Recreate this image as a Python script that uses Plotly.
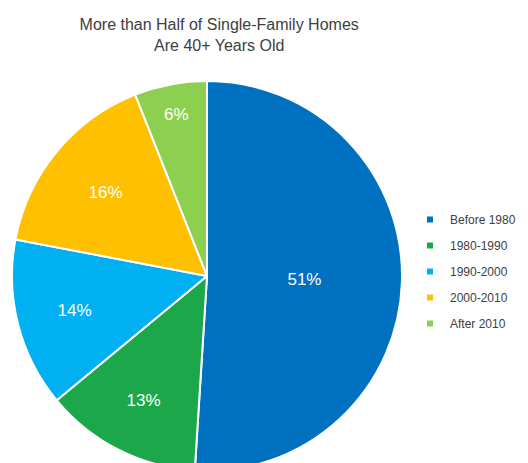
import plotly.graph_objects as go

labels = ["Before 1980", "1980-1990", "1990-2000", "2000-2010", "After 2010"]
values = [51, 13, 14, 16, 6]
colors = ["#0070C0", "#1CA84A", "#00B0F0", "#FFC000", "#8DCF4F"]

W, H = 528, 463

fig = go.Figure()
fig.add_trace(go.Pie(
    labels=labels, values=values, sort=False, direction="clockwise", rotation=0,
    marker=dict(colors=colors, line=dict(color="white", width=2)),
    textinfo="percent", texttemplate="%{percent:.0%}", textposition="inside",
    insidetextorientation="horizontal",
    textfont=dict(color="white", size=17, family="Liberation Sans, Arial"),
    showlegend=False,
    domain=dict(x=[0 / W, 398 / W], y=[0, (H - 73) / H]),
))
for lab, col in zip(labels, colors):
    fig.add_trace(go.Scatter(
        x=[None], y=[None], mode="markers", name=lab, legendgroup=lab,
        marker=dict(symbol="square", size=6, color=col),
    ))

fig.update_layout(
    width=W, height=H,
    margin=dict(l=0, r=0, t=0, b=0),
    paper_bgcolor="white", plot_bgcolor="white",
    xaxis=dict(visible=False), yaxis=dict(visible=False),
    title=dict(text="More than Half of Single-Family Homes<br>Are 40+ Years Old",
               x=0.40, xanchor="center", y=1 - 22 / H, yanchor="top",
               font=dict(family="Liberation Sans, Arial", size=16, color="#404040")),
    legend=dict(x=402 / W, xanchor="left", y=1 - 197 / H, yanchor="top",
                font=dict(family="Liberation Sans, Arial", size=12, color="#404040"),
                tracegroupgap=7, itemwidth=30),
    showlegend=True,
)
fig.write_html("out.html")
